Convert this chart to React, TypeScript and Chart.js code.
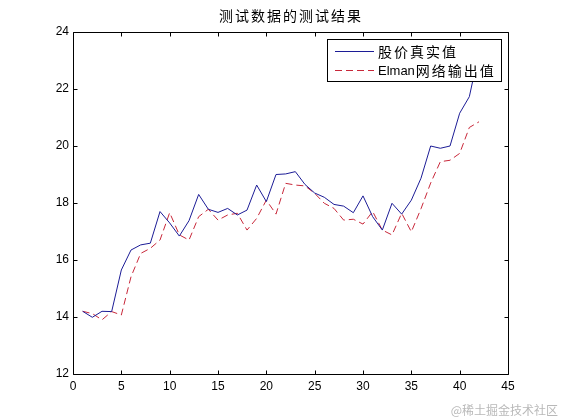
import React, { useEffect, useRef } from "react";
import { Chart, registerables } from "chart.js";

Chart.register(...registerables);

const titleText = "测试数据的测试结果";
const seriesNames = ["股价真实值", "Elman网络输出值"];
const xValues = [
  1, 2, 3, 4, 5, 6, 7, 8, 9, 10, 11, 12, 13, 14, 15, 16, 17, 18, 19, 20, 21,
  22, 23, 24, 25, 26, 27, 28, 29, 30, 31, 32, 33, 34, 35, 36, 37, 38, 39, 40,
  41, 42,
];
const actualValues = [
  14.2, 13.99, 14.2, 14.19, 15.65, 16.35, 16.53, 16.59, 17.7, 17.3, 16.84,
  17.38, 18.3, 17.78, 17.67, 17.81, 17.58, 17.75, 18.63, 18.05, 19.0, 19.02,
  19.1, 18.65, 18.35, 18.2, 17.95, 17.89, 17.66, 18.25, 17.52, 17.05, 17.99,
  17.61, 18.1, 18.87, 20.0, 19.92, 20.0, 21.15, 21.73, 23.3,
];
const elmanValues = [
  14.2, 14.12, 13.9, 14.19, 14.07, 15.41, 16.23, 16.41, 16.7, 17.66, 16.88,
  16.7, 17.52, 17.78, 17.4, 17.58, 17.64, 17.05, 17.46, 18.1, 17.61, 18.69,
  18.63, 18.6, 18.34, 17.99, 17.81, 17.4, 17.43, 17.26, 17.7, 17.05, 16.88,
  17.64, 16.99, 17.8, 18.7, 19.45, 19.5, 19.74, 20.65, 20.85,
];
const xTicks = [0, 5, 10, 15, 20, 25, 30, 35, 40, 45];
const yTicks = [12, 14, 16, 18, 20, 22, 24];
const watermark = "@稀土掘金技术社区";

const BLUE = "#1c1c96";
const RED = "#c8283a";
const DASH = [7, 4];

const matlabPlugin = {
  id: "matlabDecor",
  afterDatasetsDraw(chart: any) {
    const { ctx, chartArea: a, scales } = chart;
    const L = Math.round(a.left) + 0.5;
    const R = Math.round(a.right) + 0.5;
    const T = Math.round(a.top) + 0.5;
    const B = Math.round(a.bottom) + 0.5;
    ctx.save();
    ctx.strokeStyle = "#000";
    ctx.lineWidth = 1;
    ctx.setLineDash([]);
    ctx.beginPath();
    ctx.rect(L, T, R - L, B - T);
    const tl = 4;
    xTicks.forEach((v) => {
      const px = Math.round(scales.x.getPixelForValue(v)) + 0.5;
      ctx.moveTo(px, B);
      ctx.lineTo(px, B - tl);
      ctx.moveTo(px, T);
      ctx.lineTo(px, T + tl);
    });
    yTicks.forEach((v) => {
      const py = Math.round(scales.y.getPixelForValue(v)) + 0.5;
      ctx.moveTo(L, py);
      ctx.lineTo(L + tl, py);
      ctx.moveTo(R, py);
      ctx.lineTo(R - tl, py);
    });
    ctx.stroke();

    // legend
    const lx = 327.5, ly = 39.5, lw = 174, lh = 42;
    ctx.fillStyle = "#fff";
    ctx.fillRect(lx, ly, lw, lh);
    ctx.strokeStyle = "#000";
    ctx.strokeRect(lx, ly, lw, lh);
    const rows = [
      { y: 51, color: BLUE, dash: [] as number[] },
      { y: 70, color: RED, dash: DASH },
    ];
    rows.forEach((r, i) => {
      ctx.strokeStyle = r.color;
      ctx.setLineDash(r.dash);
      ctx.beginPath();
      ctx.moveTo(335, r.y + 0.5);
      ctx.lineTo(374, r.y + 0.5);
      ctx.stroke();
      ctx.setLineDash([]);
      ctx.fillStyle = "#000";
      ctx.textBaseline = "middle";
      ctx.textAlign = "left";
      const name = seriesNames[i];
      const m = name.match(/^[A-Za-z]+/);
      let x = 378;
      if (m) {
        ctx.font = '13px "Liberation Sans", Arial, sans-serif';
        (ctx as any).letterSpacing = "0px";
        ctx.fillText(m[0], x, r.y + 1);
        x += ctx.measureText(m[0]).width + 1;
      }
      const rest = m ? name.slice(m[0].length) : name;
      ctx.font = '14px "Noto Sans CJK SC", sans-serif';
      (ctx as any).letterSpacing = "2px";
      ctx.fillText(rest, x, r.y + 1);
      (ctx as any).letterSpacing = "0px";
    });

    // title
    ctx.font = '14px "Noto Sans CJK SC", sans-serif';
    (ctx as any).letterSpacing = "2px";
    ctx.fillStyle = "#000";
    ctx.textAlign = "left";
    ctx.textBaseline = "middle";
    const tw = ctx.measureText(titleText).width - 2;
    ctx.fillText(titleText, 290 - tw / 2, 16);
    (ctx as any).letterSpacing = "0px";

    // watermark
    ctx.font = '12px "Noto Sans CJK SC", sans-serif';
    ctx.fillStyle = "rgba(160,160,160,0.75)";
    ctx.textAlign = "right";
    ctx.textBaseline = "middle";
    ctx.fillText(watermark, 558, 410);
    ctx.restore();
  },
};

export default function App() {
  const ref = useRef<HTMLCanvasElement>(null);
  useEffect(() => {
    if (!ref.current) return;
    const chart = new Chart(ref.current, {
      type: "line",
      data: {
        datasets: [
          {
            label: seriesNames[0],
            data: xValues.map((x, i) => ({ x, y: actualValues[i] })),
            borderColor: BLUE,
            borderWidth: 1,
            pointRadius: 0,
            tension: 0,
            fill: false,
          },
          {
            label: seriesNames[1],
            data: xValues.map((x, i) => ({ x, y: elmanValues[i] })),
            borderColor: RED,
            borderWidth: 1,
            borderDash: DASH,
            pointRadius: 0,
            tension: 0,
            fill: false,
          },
        ],
      },
      options: {
        animation: false,
        responsive: false,
        devicePixelRatio: 1,
        layout: { padding: { left: 0, right: 53, top: 32, bottom: 0 } },
        plugins: {
          legend: { display: false },
          title: { display: false },
          tooltip: { enabled: false },
        },
        scales: {
          x: {
            type: "linear",
            min: 0,
            max: 45,
            grid: { display: false, drawTicks: false },
            border: { display: false },
            afterFit: (s: any) => {
              s.height = 46;
            },
            afterBuildTicks: (s: any) => {
              s.ticks = xTicks.map((v) => ({ value: v }));
            },
            ticks: {
              padding: 5,
              color: "#000",
              font: { family: '"Liberation Sans", Arial, sans-serif', size: 12 },
              maxRotation: 0,
              autoSkip: false,
            },
          },
          y: {
            type: "linear",
            min: 12,
            max: 24,
            grid: { display: false, drawTicks: false },
            border: { display: false },
            afterFit: (s: any) => {
              s.width = 73;
            },
            afterBuildTicks: (s: any) => {
              s.ticks = yTicks.map((v) => ({ value: v }));
            },
            ticks: {
              padding: 4,
              color: "#000",
              font: { family: '"Liberation Sans", Arial, sans-serif', size: 12 },
              autoSkip: false,
            },
          },
        },
      },
      plugins: [matlabPlugin],
    } as any);
    return () => chart.destroy();
  }, []);
  return (
    <div style={{ position: "absolute", left: 0, top: 0, width: 561, height: 420, background: "#fff" }}>
      <canvas ref={ref} width={561} height={420} style={{ display: "block" }} />
    </div>
  );
}
